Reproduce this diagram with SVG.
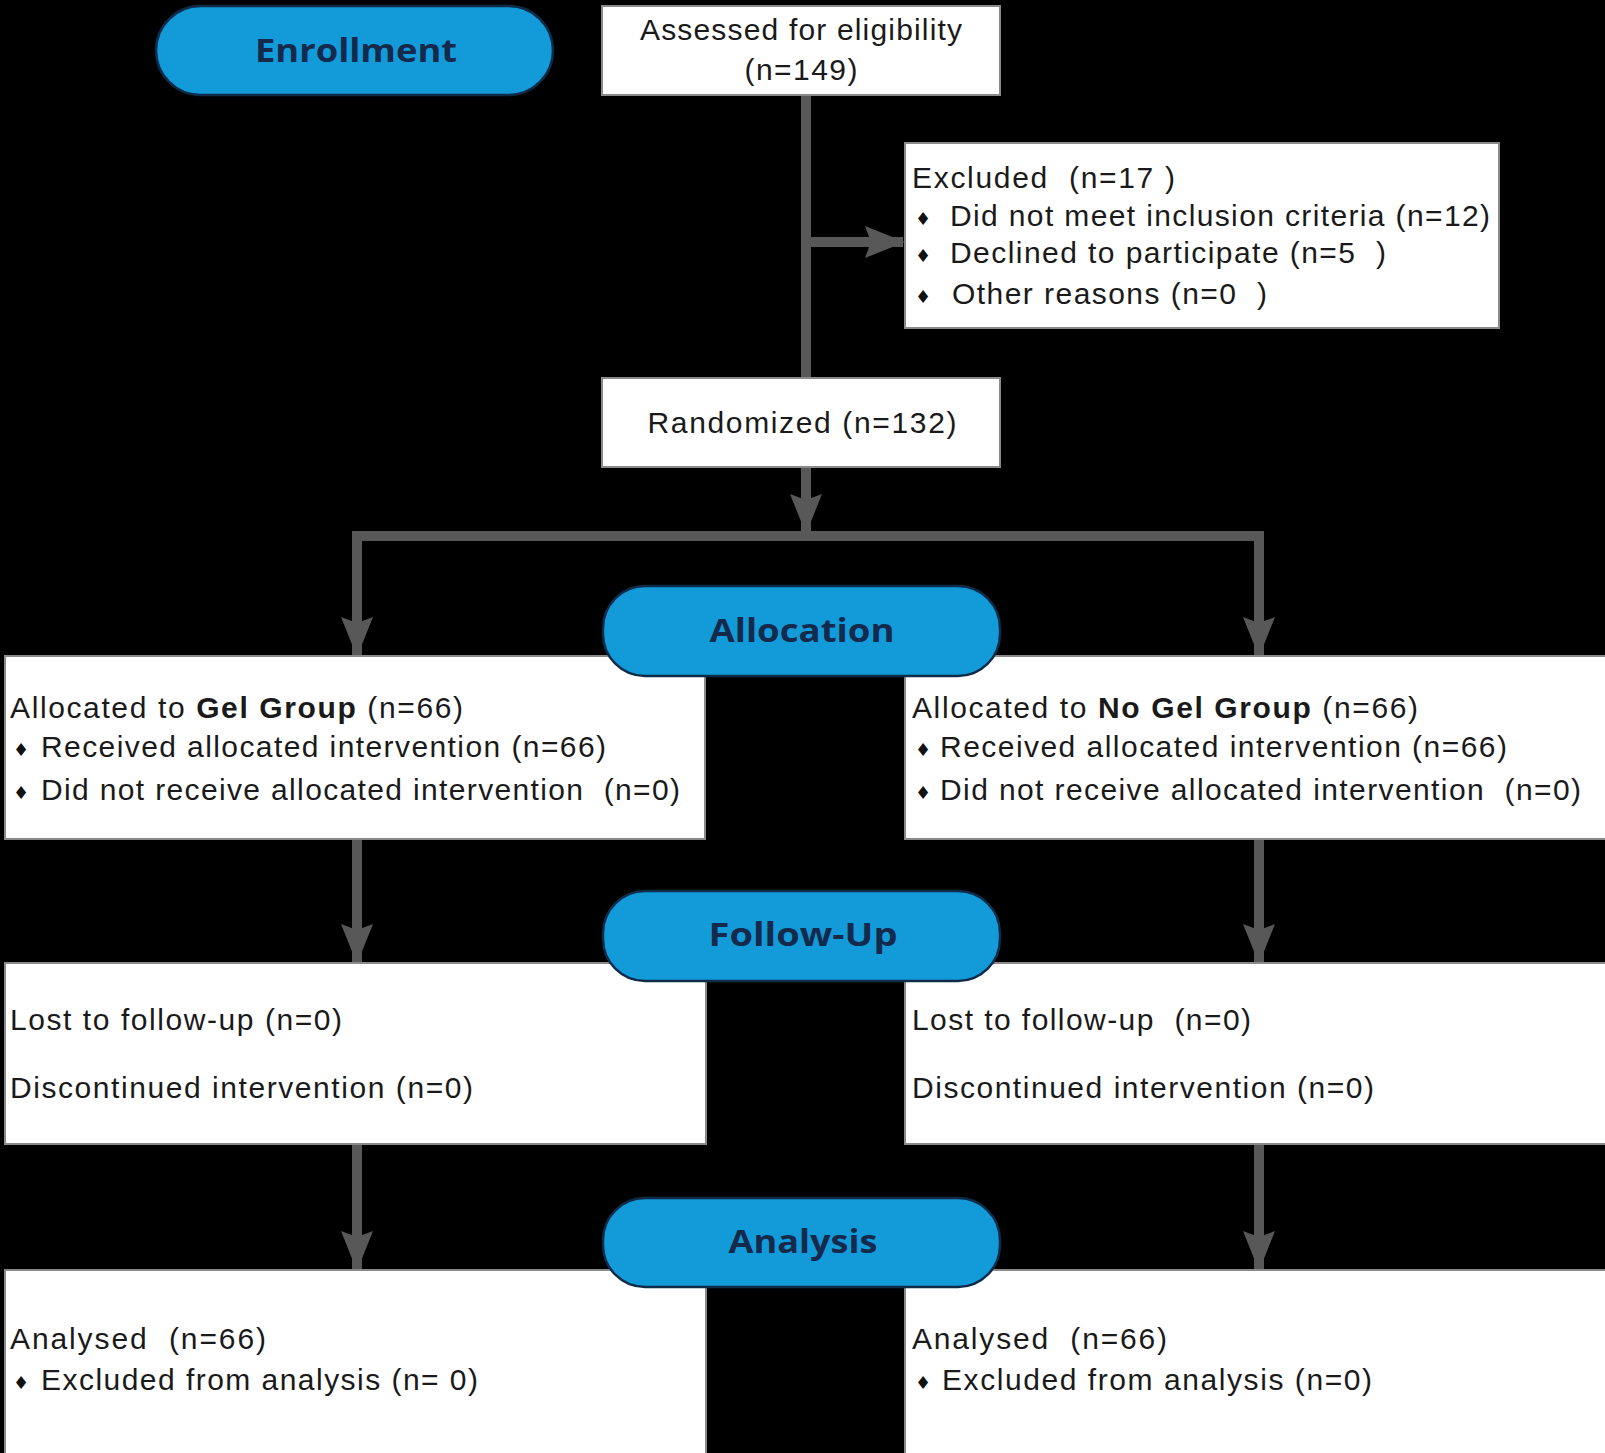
<svg xmlns="http://www.w3.org/2000/svg" width="1605" height="1453" viewBox="0 0 1605 1453">
<defs>
<style>
.box{fill:#ffffff;stroke:#8a8a8a;stroke-width:2}
.pill{fill:#139ad8;stroke:#0e2c4a;stroke-width:2.5}
.pt{font-family:"Open Sans","DejaVu Sans",sans-serif;font-weight:bold;font-size:33px;fill:#142a4c;text-anchor:middle}
.t{font-family:"Liberation Sans",Arial,sans-serif;font-size:30px;fill:#1a1a1a}
.b{font-weight:bold}
.bul{font-family:"DejaVu Sans",sans-serif;font-size:18px;fill:#111}
.ln{fill:none;stroke:#585858;stroke-width:10}
</style>
<marker id="ah" viewBox="0 0 40 32" refX="38" refY="16" markerWidth="40" markerHeight="32" markerUnits="userSpaceOnUse" orient="auto">
<path d="M0,0 L40,16 L0,32 L6,16 Z" fill="#585858"/>
</marker>
</defs>
<rect x="0" y="0" width="1605" height="1453" fill="#000"/>

<g id="connectors">
<line class="ln" x1="806" y1="95" x2="806" y2="377"/>
<line class="ln" x1="806" y1="242" x2="903" y2="242" marker-end="url(#ah)"/>
<line class="ln" x1="806" y1="467" x2="806" y2="532" marker-end="url(#ah)"/>
<polyline class="ln" points="357,655 357,536 1259,536 1259,655"/>
<line class="ln" x1="357" y1="600" x2="357" y2="655" marker-end="url(#ah)"/>
<line class="ln" x1="1259" y1="600" x2="1259" y2="655" marker-end="url(#ah)"/>
<line class="ln" x1="357" y1="839" x2="357" y2="962" marker-end="url(#ah)"/>
<line class="ln" x1="1259" y1="839" x2="1259" y2="962" marker-end="url(#ah)"/>
<line class="ln" x1="357" y1="1144" x2="357" y2="1269" marker-end="url(#ah)"/>
<line class="ln" x1="1259" y1="1144" x2="1259" y2="1269" marker-end="url(#ah)"/>
</g>

<g id="enrollment">
<rect class="pill" x="156" y="6" width="397" height="89" rx="44.5"/>
<text class="pt" x="356" y="62" textLength="202" lengthAdjust="spacingAndGlyphs">Enrollment</text>
</g>

<g id="assessed">
<rect class="box" x="602" y="6" width="398" height="89"/>
<text class="t" x="801" y="40" text-anchor="middle" textLength="322" lengthAdjust="spacing">Assessed for eligibility</text>
<text class="t" x="801" y="80" text-anchor="middle" textLength="113" lengthAdjust="spacing">(n=149)</text>
</g>

<g id="excluded">
<rect class="box" x="905" y="143" width="594" height="185"/>
<text class="t" x="912" y="188" textLength="263" lengthAdjust="spacing" xml:space="preserve">Excluded  (n=17 )</text>
<text class="bul" x="915" y="225">♦</text>
<text class="t" x="950" y="226" textLength="540" lengthAdjust="spacing">Did not meet inclusion criteria (n=12)</text>
<text class="bul" x="915" y="262">♦</text>
<text class="t" x="950" y="263" textLength="436" lengthAdjust="spacing" xml:space="preserve">Declined to participate (n=5  )</text>
<text class="bul" x="915" y="303">♦</text>
<text class="t" x="952" y="304" textLength="315" lengthAdjust="spacing" xml:space="preserve">Other reasons (n=0  )</text>
</g>

<g id="randomized">
<rect class="box" x="602" y="378" width="398" height="89"/>
<text class="t" x="802" y="433" text-anchor="middle" textLength="309" lengthAdjust="spacing">Randomized (n=132)</text>
</g>

<g id="alloc-left">
<rect class="box" x="5" y="656" width="700" height="183"/>
<text class="t" x="10" y="718" textLength="453" lengthAdjust="spacing">Allocated to <tspan class="b">Gel Group</tspan> (n=66)</text>
<text class="bul" x="13" y="756">♦</text>
<text class="t" x="41" y="757" textLength="565" lengthAdjust="spacing">Received allocated intervention (n=66)</text>
<text class="bul" x="13" y="799">♦</text>
<text class="t" x="41" y="800" textLength="639" lengthAdjust="spacing" xml:space="preserve">Did not receive allocated intervention  (n=0)</text>
</g>

<g id="alloc-right">
<rect class="box" x="905" y="656" width="702" height="183"/>
<text class="t" x="912" y="718" textLength="506" lengthAdjust="spacing">Allocated to <tspan class="b">No Gel Group</tspan> (n=66)</text>
<text class="bul" x="915" y="756">♦</text>
<text class="t" x="940" y="757" textLength="567" lengthAdjust="spacing">Received allocated intervention (n=66)</text>
<text class="bul" x="915" y="799">♦</text>
<text class="t" x="940" y="800" textLength="641" lengthAdjust="spacing" xml:space="preserve">Did not receive allocated intervention  (n=0)</text>
</g>

<g id="allocation">
<rect class="pill" x="603" y="586" width="397" height="90" rx="42"/>
<text class="pt" x="802" y="642" textLength="185" lengthAdjust="spacingAndGlyphs">Allocation</text>
</g>

<g id="fu-left">
<rect class="box" x="5" y="963" width="701" height="181"/>
<text class="t" x="10" y="1030" textLength="332" lengthAdjust="spacing">Lost to follow-up (n=0)</text>
<text class="t" x="10" y="1098" textLength="463" lengthAdjust="spacing">Discontinued intervention (n=0)</text>
</g>

<g id="fu-right">
<rect class="box" x="905" y="963" width="702" height="181"/>
<text class="t" x="912" y="1030" textLength="339" lengthAdjust="spacing" xml:space="preserve">Lost to follow-up  (n=0)</text>
<text class="t" x="912" y="1098" textLength="462" lengthAdjust="spacing">Discontinued intervention (n=0)</text>
</g>

<g id="followup">
<rect class="pill" x="603" y="891" width="397" height="90" rx="42"/>
<text class="pt" x="803" y="946" textLength="189" lengthAdjust="spacingAndGlyphs">Follow-Up</text>
</g>

<g id="an-left">
<rect class="box" x="5" y="1270" width="701" height="185"/>
<text class="t" x="10" y="1349" textLength="256" lengthAdjust="spacing" xml:space="preserve">Analysed  (n=66)</text>
<text class="bul" x="13" y="1389">♦</text>
<text class="t" x="41" y="1390" textLength="437" lengthAdjust="spacing">Excluded from analysis (n= 0)</text>
</g>

<g id="an-right">
<rect class="box" x="905" y="1270" width="702" height="185"/>
<text class="t" x="912" y="1349" textLength="255" lengthAdjust="spacing" xml:space="preserve">Analysed  (n=66)</text>
<text class="bul" x="915" y="1389">♦</text>
<text class="t" x="942" y="1390" textLength="430" lengthAdjust="spacing">Excluded from analysis (n=0)</text>
</g>

<g id="analysis">
<rect class="pill" x="603" y="1198" width="397" height="89" rx="42"/>
<text class="pt" x="803" y="1253" textLength="149" lengthAdjust="spacingAndGlyphs">Analysis</text>
</g>
</svg>
